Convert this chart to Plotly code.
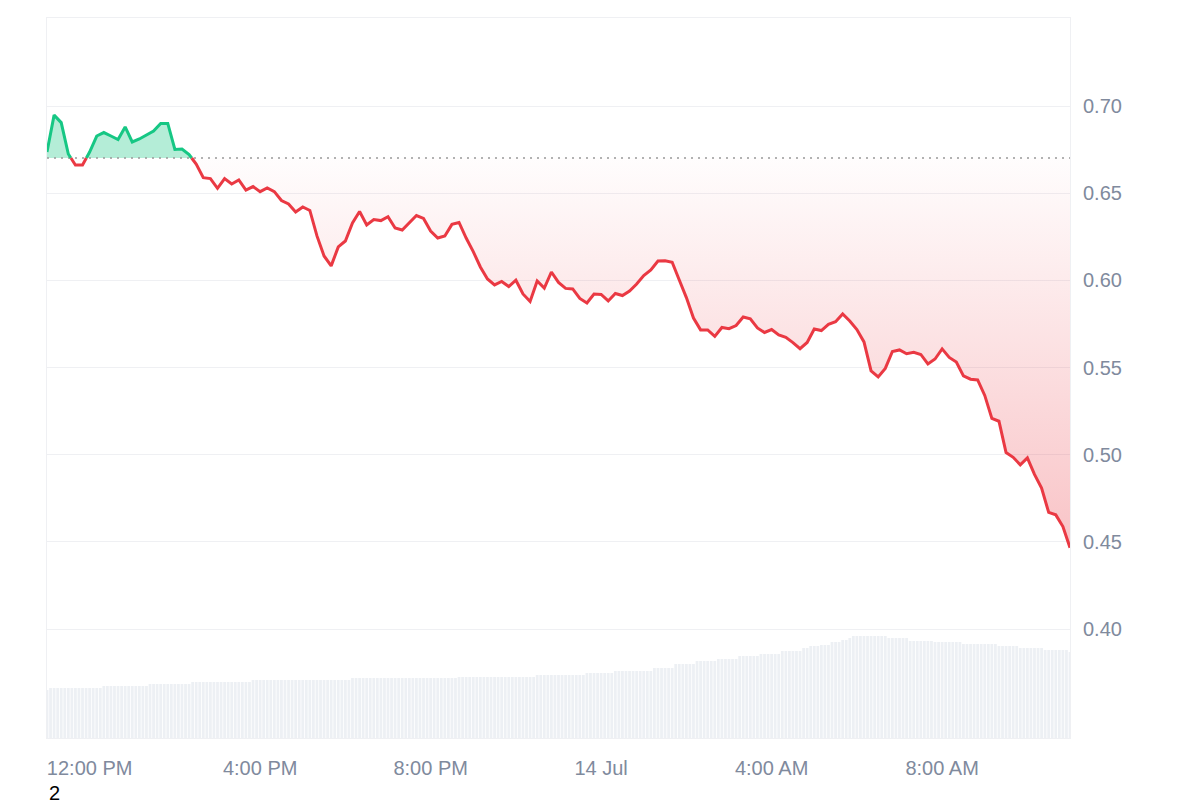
"""
24h price chart with rolling volume, drawn with Plotly
"""

import numpy as np
import pandas as pd
import plotly.graph_objects as go

GREEN = "#16c784"
RED = "#ea3943"
TICK_GREY = "#808a9d"
GRID_GREY = "#eff0f3"

# price every 10 minutes, 13 Jul 11:00 -> 14 Jul 11:00
price_start = "2025-07-13 11:00"
prices = [
    0.6736, 0.6948, 0.6905, 0.6725, 0.6662, 0.6662, 0.6736, 0.6828, 0.6848, 0.6828,
    0.6808, 0.6880, 0.6794, 0.6811, 0.6834, 0.6857, 0.6900, 0.6900, 0.6751, 0.6753,
    0.6722, 0.6667, 0.6589, 0.6584, 0.6528, 0.6584, 0.6553, 0.6576, 0.6518, 0.6538,
    0.6509, 0.6530, 0.6509, 0.6458, 0.6438, 0.6392, 0.6421, 0.6401, 0.6255, 0.6140,
    0.6083, 0.6192, 0.6226, 0.6329, 0.6395, 0.6318, 0.6349, 0.6343, 0.6365, 0.6300,
    0.6289, 0.6332, 0.6372, 0.6355, 0.6283, 0.6243, 0.6255, 0.6321, 0.6332, 0.6243,
    0.6165, 0.6077, 0.6008, 0.5974, 0.5994, 0.5965, 0.6001, 0.5922, 0.5879, 0.5997,
    0.5956, 0.6048, 0.5988, 0.5954, 0.5951, 0.5896, 0.5870, 0.5922, 0.5919, 0.5882,
    0.5925, 0.5913, 0.5939, 0.5979, 0.6028, 0.6060, 0.6111, 0.6112, 0.6104, 0.6002,
    0.5901, 0.5784, 0.5716, 0.5716, 0.5679, 0.5730, 0.5723, 0.5741, 0.5790, 0.5779,
    0.5727, 0.5701, 0.5718, 0.5687, 0.5673, 0.5643, 0.5608, 0.5644, 0.5721, 0.5712,
    0.5748, 0.5763, 0.5807, 0.5767, 0.5718, 0.5647, 0.5481, 0.5446, 0.5495, 0.5592,
    0.5601, 0.5579, 0.5587, 0.5575, 0.5521, 0.5549, 0.5607, 0.5558, 0.5532, 0.5452,
    0.5433, 0.5429, 0.5340, 0.5208, 0.5192, 0.5012, 0.4985, 0.4942, 0.4982, 0.4887,
    0.4808, 0.4669, 0.4655, 0.4588, 0.4466,
]
open_price = 0.6702

# rolling 24h volume (USD millions), 5-minute bars, stored as level / run length
vol_levels = [
    4.8, 5.0, 5.2, 5.4, 5.6, 5.8, 6.0, 6.1, 6.3, 6.5, 6.7, 7.0, 7.4, 7.7, 7.9, 8.2, 8.4,
    8.7, 9.0, 9.2, 9.3, 9.6, 9.8, 10.0, 10.2, 10.0, 9.7, 9.6, 9.4, 9.2, 9.0, 8.8, 8.6,
]
vol_runs = [
    1, 15, 13, 12, 17, 28, 30, 22, 14, 8, 11, 6, 6, 6, 6, 6, 6,
    6, 2, 3, 3, 3, 2, 1, 10, 6, 7, 8, 10, 6, 7, 7, 1,
]

tick_times = [
    "2025-07-13 12:00", "2025-07-13 16:00", "2025-07-13 20:00",
    "2025-07-14 00:00", "2025-07-14 04:00", "2025-07-14 08:00",
]
tick_text = ["12:00 PM", "4:00 PM", "8:00 PM", "14 Jul", "4:00 AM", "8:00 AM"]
price_ticks = [0.40, 0.45, 0.50, 0.55, 0.60, 0.65, 0.70]


def split_at_base(xs, ys, base):
    """
    Insert crossing points so the green and red parts meet on the baseline
    """
    out_x, out_y = [xs[0]], [ys[0]]
    for i in range(1, len(xs)):
        y0, y1 = ys[i - 1], ys[i]
        if (y0 - base) * (y1 - base) < 0:
            f = (base - y0) / (y1 - y0)
            out_x.append(xs[i - 1] + (xs[i] - xs[i - 1]) * f)
            out_y.append(base)
        out_x.append(xs[i])
        out_y.append(ys[i])
    return out_x, out_y


times = pd.date_range(price_start, periods=len(prices), freq="10min")
vol = np.repeat(vol_levels, vol_runs)
vol_times = pd.date_range(price_start, periods=len(vol), freq="5min")

xs, ys = split_at_base(list(times), prices, open_price)
base_line = [open_price] * len(xs)
up_fill = [max(v, open_price) for v in ys]
down_fill = [min(v, open_price) for v in ys]
up_line = [v if v >= open_price else None for v in ys]
down_line = [v if v <= open_price else None for v in ys]

fig = go.Figure()

# volume sits on the base axis so it is drawn behind the price
fig.add_trace(
    go.Bar(x=vol_times, y=vol, marker=dict(color="#edf0f4", line=dict(width=0)),
           yaxis="y", hoverinfo="skip")
)

fig.add_trace(go.Scatter(x=xs, y=base_line, mode="lines", line=dict(width=0),
                         yaxis="y2", hoverinfo="skip"))
fig.add_trace(go.Scatter(x=xs, y=up_fill, mode="lines", line=dict(width=0),
                         fill="tonexty", fillcolor="rgba(22,199,132,0.32)",
                         yaxis="y2", hoverinfo="skip"))
fig.add_trace(go.Scatter(x=xs, y=base_line, mode="lines", line=dict(width=0),
                         yaxis="y2", hoverinfo="skip"))
fig.add_trace(go.Scatter(
    x=xs, y=down_fill, mode="lines", line=dict(width=0), fill="tonexty",
    fillgradient=dict(type="vertical",
                      colorscale=[[0, "rgba(234,57,67,0.30)"],
                                  [1, "rgba(234,57,67,0.01)"]]),
    yaxis="y2", hoverinfo="skip"))

fig.add_trace(go.Scatter(x=[times[0], times[-1]], y=[open_price, open_price],
                         mode="lines", line=dict(color="#999999", width=1.6, dash="2px,5px"),
                         yaxis="y2", hoverinfo="skip"))

fig.add_trace(go.Scatter(x=xs, y=up_line, mode="lines",
                         line=dict(color=GREEN, width=3), yaxis="y2"))
fig.add_trace(go.Scatter(x=xs, y=down_line, mode="lines",
                         line=dict(color=RED, width=3), yaxis="y2"))

fig.add_annotation(text="2", xref="paper", yref="paper", x=0.0, y=-0.076,
                   xanchor="left", yanchor="middle", showarrow=False,
                   font=dict(size=20, color="#000000"))

# the page body adds 8px, so the figure is 8px smaller than the window
fig.update_layout(
    width=1192,
    height=792,
    showlegend=False,
    bargap=0.22,
    plot_bgcolor="white",
    paper_bgcolor="white",
    margin=dict(l=39, r=130, t=10, b=62),
    font=dict(family="Liberation Sans, Arial, sans-serif", size=20, color=TICK_GREY),
    xaxis=dict(
        range=[times[0], times[-1]],
        tickvals=tick_times,
        ticktext=tick_text,
        showgrid=False,
        showline=True,
        mirror=True,
        linecolor=GRID_GREY,
        linewidth=1,
        ticks="outside",
        ticklen=12,
        tickcolor="rgba(0,0,0,0)",
        zeroline=False,
    ),
    yaxis=dict(range=[0, 72], visible=False, fixedrange=True),
    yaxis2=dict(
        overlaying="y",
        side="right",
        range=[0.3375, 0.7505],
        tickvals=price_ticks,
        tickformat=".2f",
        showgrid=True,
        gridcolor=GRID_GREY,
        showline=True,
        mirror=True,
        linecolor=GRID_GREY,
        linewidth=1,
        ticks="outside",
        ticklen=8,
        tickcolor="rgba(0,0,0,0)",
        zeroline=False,
    ),
)

fig.write_html("out.html")
